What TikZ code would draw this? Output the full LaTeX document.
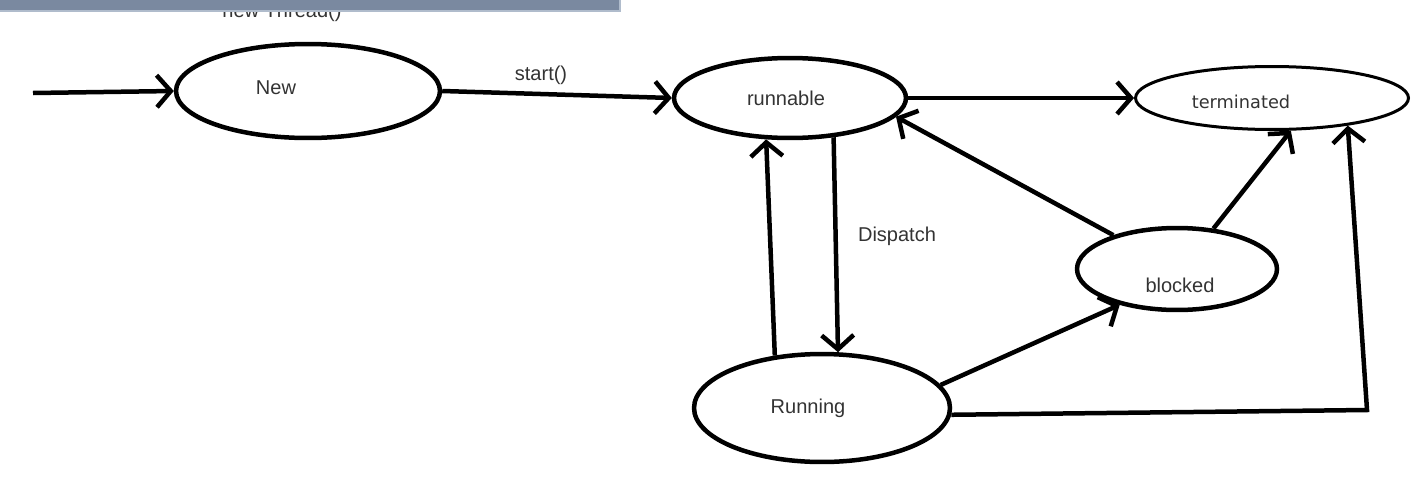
\documentclass[tikz,border=0pt]{standalone}
\usepackage{fontspec}
\setmainfont{Liberation Sans}
\newfontfamily\termfont{DejaVu Sans}
\usetikzlibrary{arrows.meta,shapes.geometric}
\definecolor{barblue}{RGB}{122,137,160}
\definecolor{barlight}{RGB}{176,188,204}

\begin{document}
\begin{tikzpicture}[x=0.02cm,y=-0.02cm, line width=0.09cm,
		state/.style={ellipse,draw,line width=0.09cm,inner sep=0pt},
		lbl/.style={font=\fontsize{11.4}{13}\selectfont,inner sep=0pt,text=black!80},
		>={Straight Barb[length=0.28cm,width=0.64cm]}]
				\useasboundingbox (0,0) rectangle (1422,494);
				% states
				\node[state,minimum width=5.28cm,minimum height=1.88cm] (new) at (308,91) {};
				\node[state,minimum width=4.64cm,minimum height=1.6cm] (run) at (790,98) {};
				\node[state,line width=0.06cm,minimum width=5.46cm,minimum height=1.26cm] (term) at (1272,98) {};
				\node[state,minimum width=4cm,minimum height=1.64cm] (blocked) at (1177,269) {};
				\node[state,minimum width=5.12cm,minimum height=2.16cm] (running) at (822,408) {};
				% texts
				\node[lbl] (newtxt) at (276,88) {New};
				\node[lbl] (runtxt) at (786,98) {runnable};
				\node[lbl,font=\termfont\fontsize{10.1}{12}\selectfont] (termtxt) at (1241,102) {terminated};
				\node[lbl] (blockedtxt) at (1180,285) {blocked};
				\node[lbl] (runningtxt) at (808,408) {Running};
				\node[lbl] (starttxt) at (541,75) {start()};
				\node[lbl] (disptxt) at (897,236) {Dispatch};
				\node[lbl,anchor=base] (threadtxt) at (282,17) {new Thread()};
				% transitions
				\coordinate (init) at (33,93);
				\coordinate (corner) at (1367,410);
				\draw [->] (init) -- (new.west);
				\draw [->] (new.east) -- (run.west);
				\draw [->] (run.east) -- (term.west);
				\draw [->] (run.318) -- (running.74);
				\draw [->] (running.132) -- (run.240);
				\draw [->] (blocked.152) -- (run.350);
				\draw [->] (blocked.48) -- (term.300);
				\draw [->] (running.11) -- (blocked.212);
				\draw [->] (running.-3) -- (corner) -- (term.340);
				% window bar on top
				\fill[barblue] (0,0) rectangle (620,11);
				\draw[barlight,line width=0.03cm] (0,11) -- (620,11) -- (620,0);
			\end{tikzpicture}
\end{document}
